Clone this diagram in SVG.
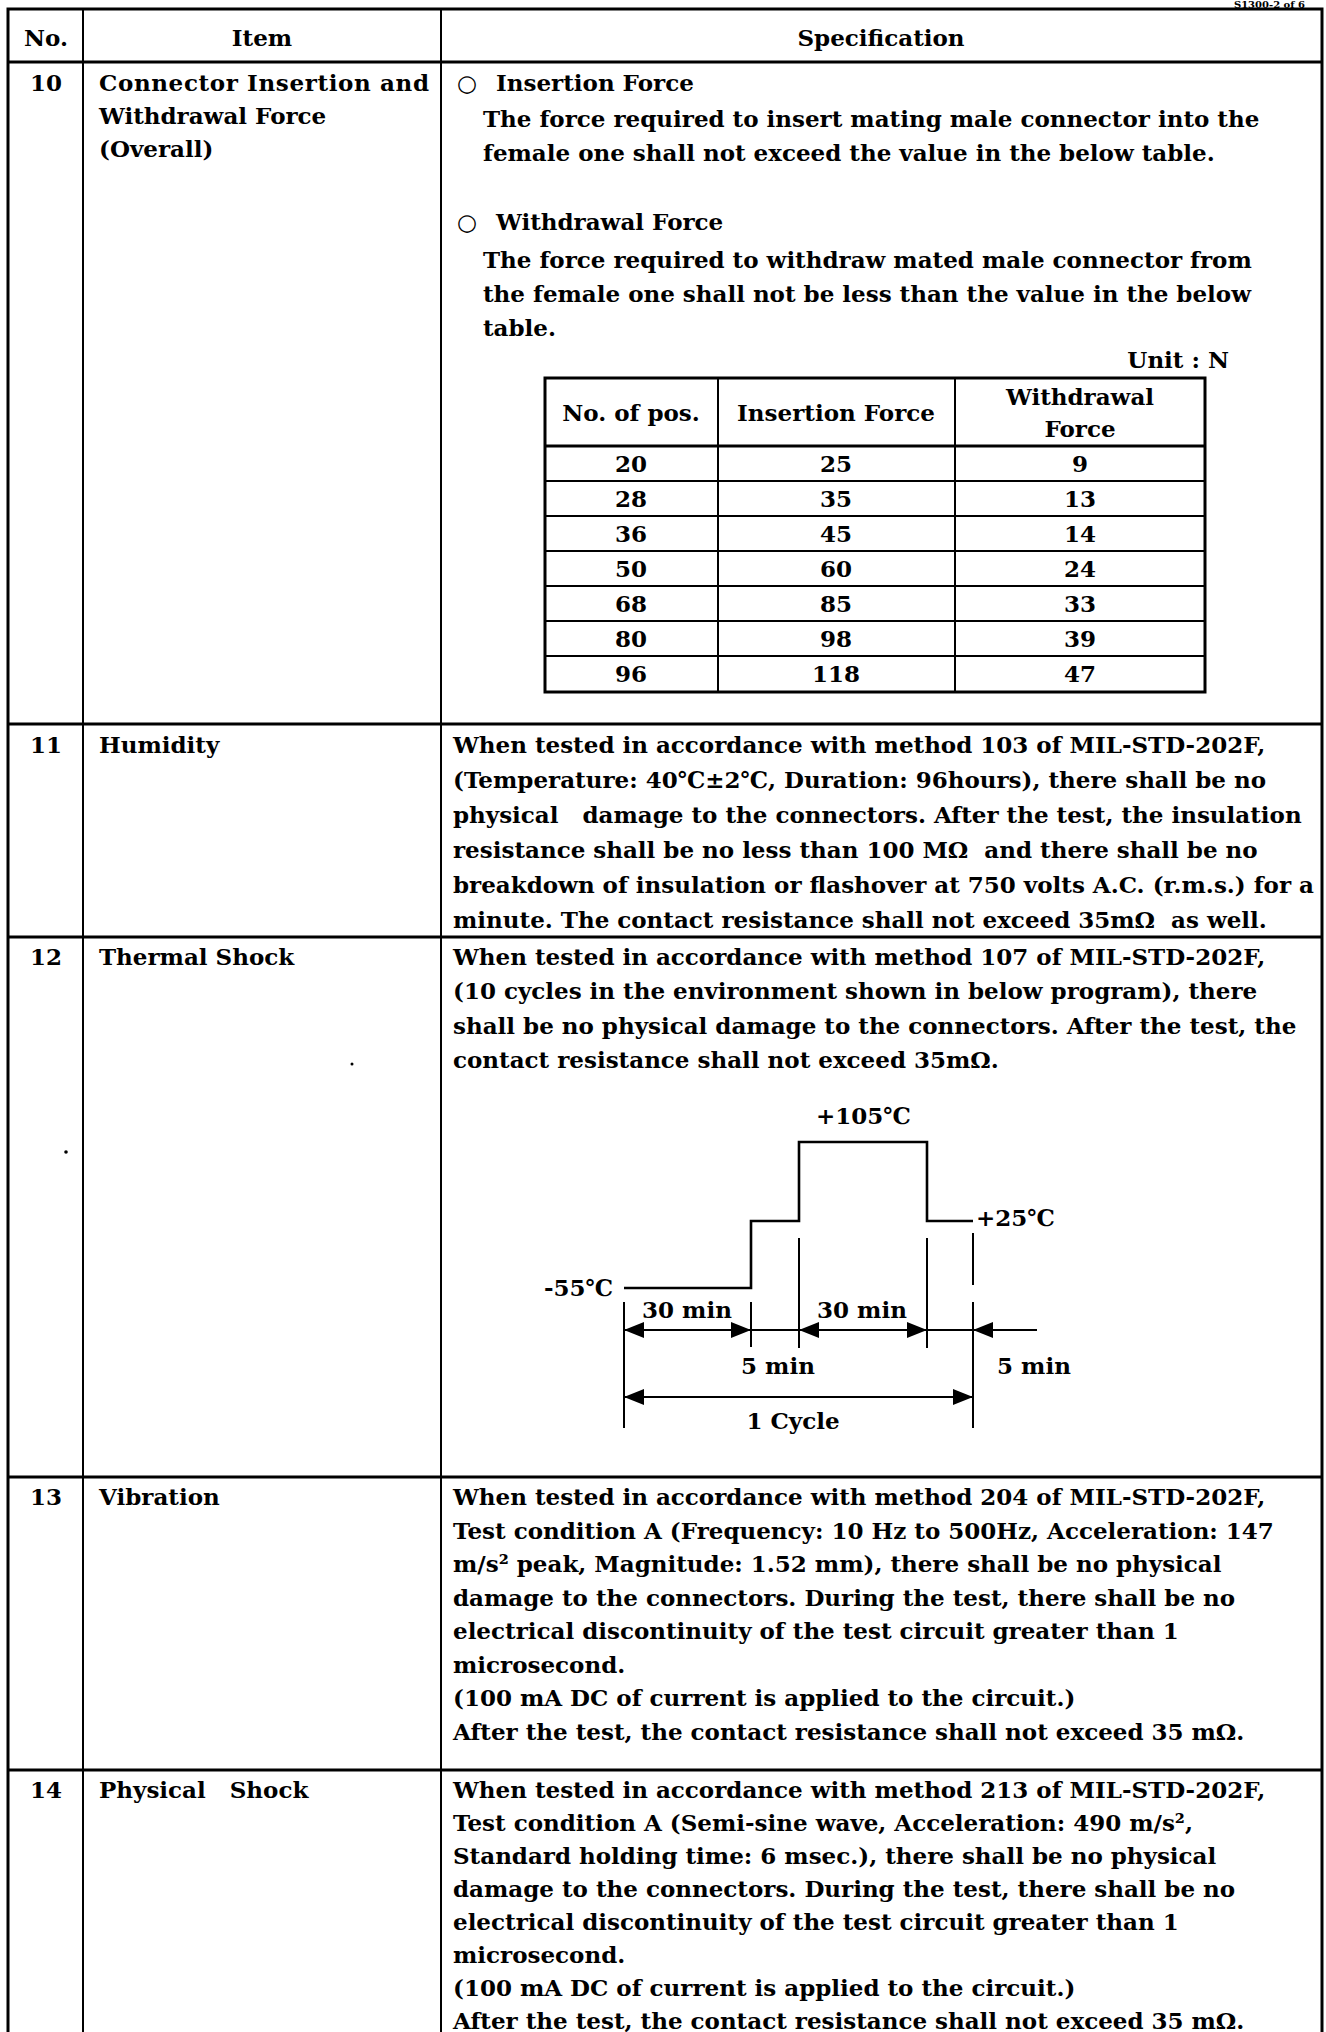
<svg xmlns="http://www.w3.org/2000/svg" width="1326" height="2032" viewBox="0 0 1326 2032">
<style>
.t{font-family:"DejaVu Serif","Liberation Serif",serif;font-weight:bold;font-size:23px;fill:#000}
.c{text-anchor:middle}
.e{text-anchor:end}
.s{font-size:10px}
.b3{stroke:#000;stroke-width:3;fill:none}
.b2{stroke:#000;stroke-width:2;fill:none}
.w{stroke:#000;stroke-width:2.6;fill:none}
</style>
<defs>
<marker id="ah" markerUnits="userSpaceOnUse" markerWidth="20" markerHeight="16" refX="20" refY="8" orient="auto-start-reverse">
<path d="M0,0 L20,8 L0,16 z" fill="#000"/>
</marker>
</defs>
<rect width="1326" height="2032" fill="#fff"/>
<text class="t e s" x="1305" y="8">S1300-2 of 6</text>

<g id="grid">
<rect class="b3" x="8" y="9" width="1314" height="2040"/>
<line class="b3" x1="8" y1="62" x2="1322" y2="62"/>
<line class="b3" x1="8" y1="724" x2="1322" y2="724"/>
<line class="b3" x1="8" y1="937" x2="1322" y2="937"/>
<line class="b3" x1="8" y1="1477" x2="1322" y2="1477"/>
<line class="b3" x1="8" y1="1770" x2="1322" y2="1770"/>
<line class="b2" x1="83" y1="9" x2="83" y2="2032"/>
<line class="b2" x1="441" y1="9" x2="441" y2="2032"/>
</g>

<g id="header">
<text class="t c" x="46" y="46">No.</text>
<text class="t c" x="262" y="46">Item</text>
<text class="t c" x="881" y="46">Specification</text>
</g>

<g id="row10">
<text class="t c" x="46" y="91">10</text>
<text class="t" x="99" y="91" textLength="330" lengthAdjust="spacing">Connector Insertion and</text>
<text class="t" x="99" y="124">Withdrawal Force</text>
<text class="t" x="99" y="157">(Overall)</text>
<text class="t" x="457" y="91">○</text>
<text class="t" x="496" y="91">Insertion Force</text>
<text class="t" x="483" y="127">The force required to insert mating male connector into the</text>
<text class="t" x="483" y="161">female one shall not exceed the value in the below table.</text>
<text class="t" x="457" y="230">○</text>
<text class="t" x="496" y="230">Withdrawal Force</text>
<text class="t" x="483" y="268">The force required to withdraw mated male connector from</text>
<text class="t" x="483" y="302">the female one shall not be less than the value in the below</text>
<text class="t" x="483" y="336">table.</text>
<text class="t e" x="1229" y="368">Unit : N</text>
</g>

<g id="force-table">
<rect class="b3" x="545" y="378" width="660" height="314"/>
<line class="b2" x1="718" y1="378" x2="718" y2="692"/>
<line class="b2" x1="955" y1="378" x2="955" y2="692"/>
<line class="b3" x1="545" y1="446" x2="1205" y2="446"/>
<line class="b2" x1="545" y1="481" x2="1205" y2="481"/>
<line class="b2" x1="545" y1="516" x2="1205" y2="516"/>
<line class="b2" x1="545" y1="551" x2="1205" y2="551"/>
<line class="b2" x1="545" y1="586" x2="1205" y2="586"/>
<line class="b2" x1="545" y1="621" x2="1205" y2="621"/>
<line class="b2" x1="545" y1="656" x2="1205" y2="656"/>
<text class="t c" x="631" y="421">No. of pos.</text>
<text class="t c" x="836" y="421">Insertion Force</text>
<text class="t c" x="1080" y="405">Withdrawal</text>
<text class="t c" x="1080" y="437">Force</text>
<text class="t c" x="631" y="472">20</text><text class="t c" x="836" y="472">25</text><text class="t c" x="1080" y="472">9</text>
<text class="t c" x="631" y="507">28</text><text class="t c" x="836" y="507">35</text><text class="t c" x="1080" y="507">13</text>
<text class="t c" x="631" y="542">36</text><text class="t c" x="836" y="542">45</text><text class="t c" x="1080" y="542">14</text>
<text class="t c" x="631" y="577">50</text><text class="t c" x="836" y="577">60</text><text class="t c" x="1080" y="577">24</text>
<text class="t c" x="631" y="612">68</text><text class="t c" x="836" y="612">85</text><text class="t c" x="1080" y="612">33</text>
<text class="t c" x="631" y="647">80</text><text class="t c" x="836" y="647">98</text><text class="t c" x="1080" y="647">39</text>
<text class="t c" x="631" y="682">96</text><text class="t c" x="836" y="682">118</text><text class="t c" x="1080" y="682">47</text>
</g>

<g id="row11">
<text class="t c" x="46" y="753">11</text>
<text class="t" x="99" y="753">Humidity</text>
<text class="t" x="453" y="753">When tested in accordance with method 103 of MIL-STD-202F,</text>
<text class="t" x="453" y="788">(Temperature: 40℃±2℃, Duration: 96hours), there shall be no</text>
<text class="t" x="453" y="823" xml:space="preserve">physical   damage to the connectors. After the test, the insulation</text>
<text class="t" x="453" y="858" xml:space="preserve">resistance shall be no less than 100 MΩ  and there shall be no</text>
<text class="t" x="453" y="893">breakdown of insulation or flashover at 750 volts A.C. (r.m.s.) for a</text>
<text class="t" x="453" y="928" xml:space="preserve">minute. The contact resistance shall not exceed 35mΩ  as well.</text>
</g>

<g id="row12">
<text class="t c" x="46" y="965">12</text>
<text class="t" x="99" y="965">Thermal Shock</text>
<text class="t" x="453" y="965">When tested in accordance with method 107 of MIL-STD-202F,</text>
<text class="t" x="453" y="999">(10 cycles in the environment shown in below program), there</text>
<text class="t" x="453" y="1034">shall be no physical damage to the connectors. After the test, the</text>
<text class="t" x="453" y="1068">contact resistance shall not exceed 35mΩ.</text>
<circle cx="352" cy="1064" r="1.5" fill="#000"/>
<circle cx="66" cy="1152" r="1.8" fill="#000"/>
</g>

<g id="thermal-profile">
<path class="w" d="M624,1288 H751 V1221 H799 V1142 H927 V1221 H973"/>
<line class="b2" x1="624" y1="1302" x2="624" y2="1428"/>
<line class="b2" x1="751" y1="1302" x2="751" y2="1347"/>
<line class="b2" x1="799" y1="1238" x2="799" y2="1348"/>
<line class="b2" x1="927" y1="1238" x2="927" y2="1348"/>
<line class="b2" x1="973" y1="1233" x2="973" y2="1285"/>
<line class="b2" x1="973" y1="1302" x2="973" y2="1428"/>
<text class="t" x="816" y="1124">+105℃</text>
<text class="t" x="976" y="1226">+25℃</text>
<text class="t" x="544" y="1296">-55℃</text>
<text class="t c" x="687" y="1318">30 min</text>
<text class="t c" x="862" y="1318">30 min</text>
<text class="t c" x="778" y="1374">5 min</text>
<text class="t c" x="1034" y="1374">5 min</text>
<text class="t c" x="793" y="1429">1 Cycle</text>
</g>

<g id="connectors">
<line class="b2" x1="624" y1="1330" x2="751" y2="1330" marker-start="url(#ah)" marker-end="url(#ah)"/>
<line class="b2" x1="751" y1="1330" x2="799" y2="1330"/>
<line class="b2" x1="799" y1="1330" x2="927" y2="1330" marker-start="url(#ah)" marker-end="url(#ah)"/>
<line class="b2" x1="927" y1="1330" x2="973" y2="1330"/>
<line class="b2" x1="1037" y1="1330" x2="973" y2="1330" marker-end="url(#ah)"/>
<line class="b2" x1="624" y1="1397" x2="973" y2="1397" marker-start="url(#ah)" marker-end="url(#ah)"/>
</g>

<g id="row13">
<text class="t c" x="46" y="1505">13</text>
<text class="t" x="99" y="1505">Vibration</text>
<text class="t" x="453" y="1505">When tested in accordance with method 204 of MIL-STD-202F,</text>
<text class="t" x="453" y="1538.5">Test condition A (Frequency: 10 Hz to 500Hz, Acceleration: 147</text>
<text class="t" x="453" y="1572">m/s² peak, Magnitude: 1.52 mm), there shall be no physical</text>
<text class="t" x="453" y="1605.5">damage to the connectors. During the test, there shall be no</text>
<text class="t" x="453" y="1639">electrical discontinuity of the test circuit greater than 1</text>
<text class="t" x="453" y="1672.5">microsecond.</text>
<text class="t" x="453" y="1706">(100 mA DC of current is applied to the circuit.)</text>
<text class="t" x="453" y="1739.5">After the test, the contact resistance shall not exceed 35 mΩ.</text>
</g>

<g id="row14">
<text class="t c" x="46" y="1798">14</text>
<text class="t" x="99" y="1798" xml:space="preserve">Physical   Shock</text>
<text class="t" x="453" y="1798">When tested in accordance with method 213 of MIL-STD-202F,</text>
<text class="t" x="453" y="1831">Test condition A (Semi-sine wave, Acceleration: 490 m/s²,</text>
<text class="t" x="453" y="1864">Standard holding time: 6 msec.), there shall be no physical</text>
<text class="t" x="453" y="1897">damage to the connectors. During the test, there shall be no</text>
<text class="t" x="453" y="1930">electrical discontinuity of the test circuit greater than 1</text>
<text class="t" x="453" y="1963">microsecond.</text>
<text class="t" x="453" y="1996">(100 mA DC of current is applied to the circuit.)</text>
<text class="t" x="453" y="2029">After the test, the contact resistance shall not exceed 35 mΩ.</text>
</g>
</svg>
